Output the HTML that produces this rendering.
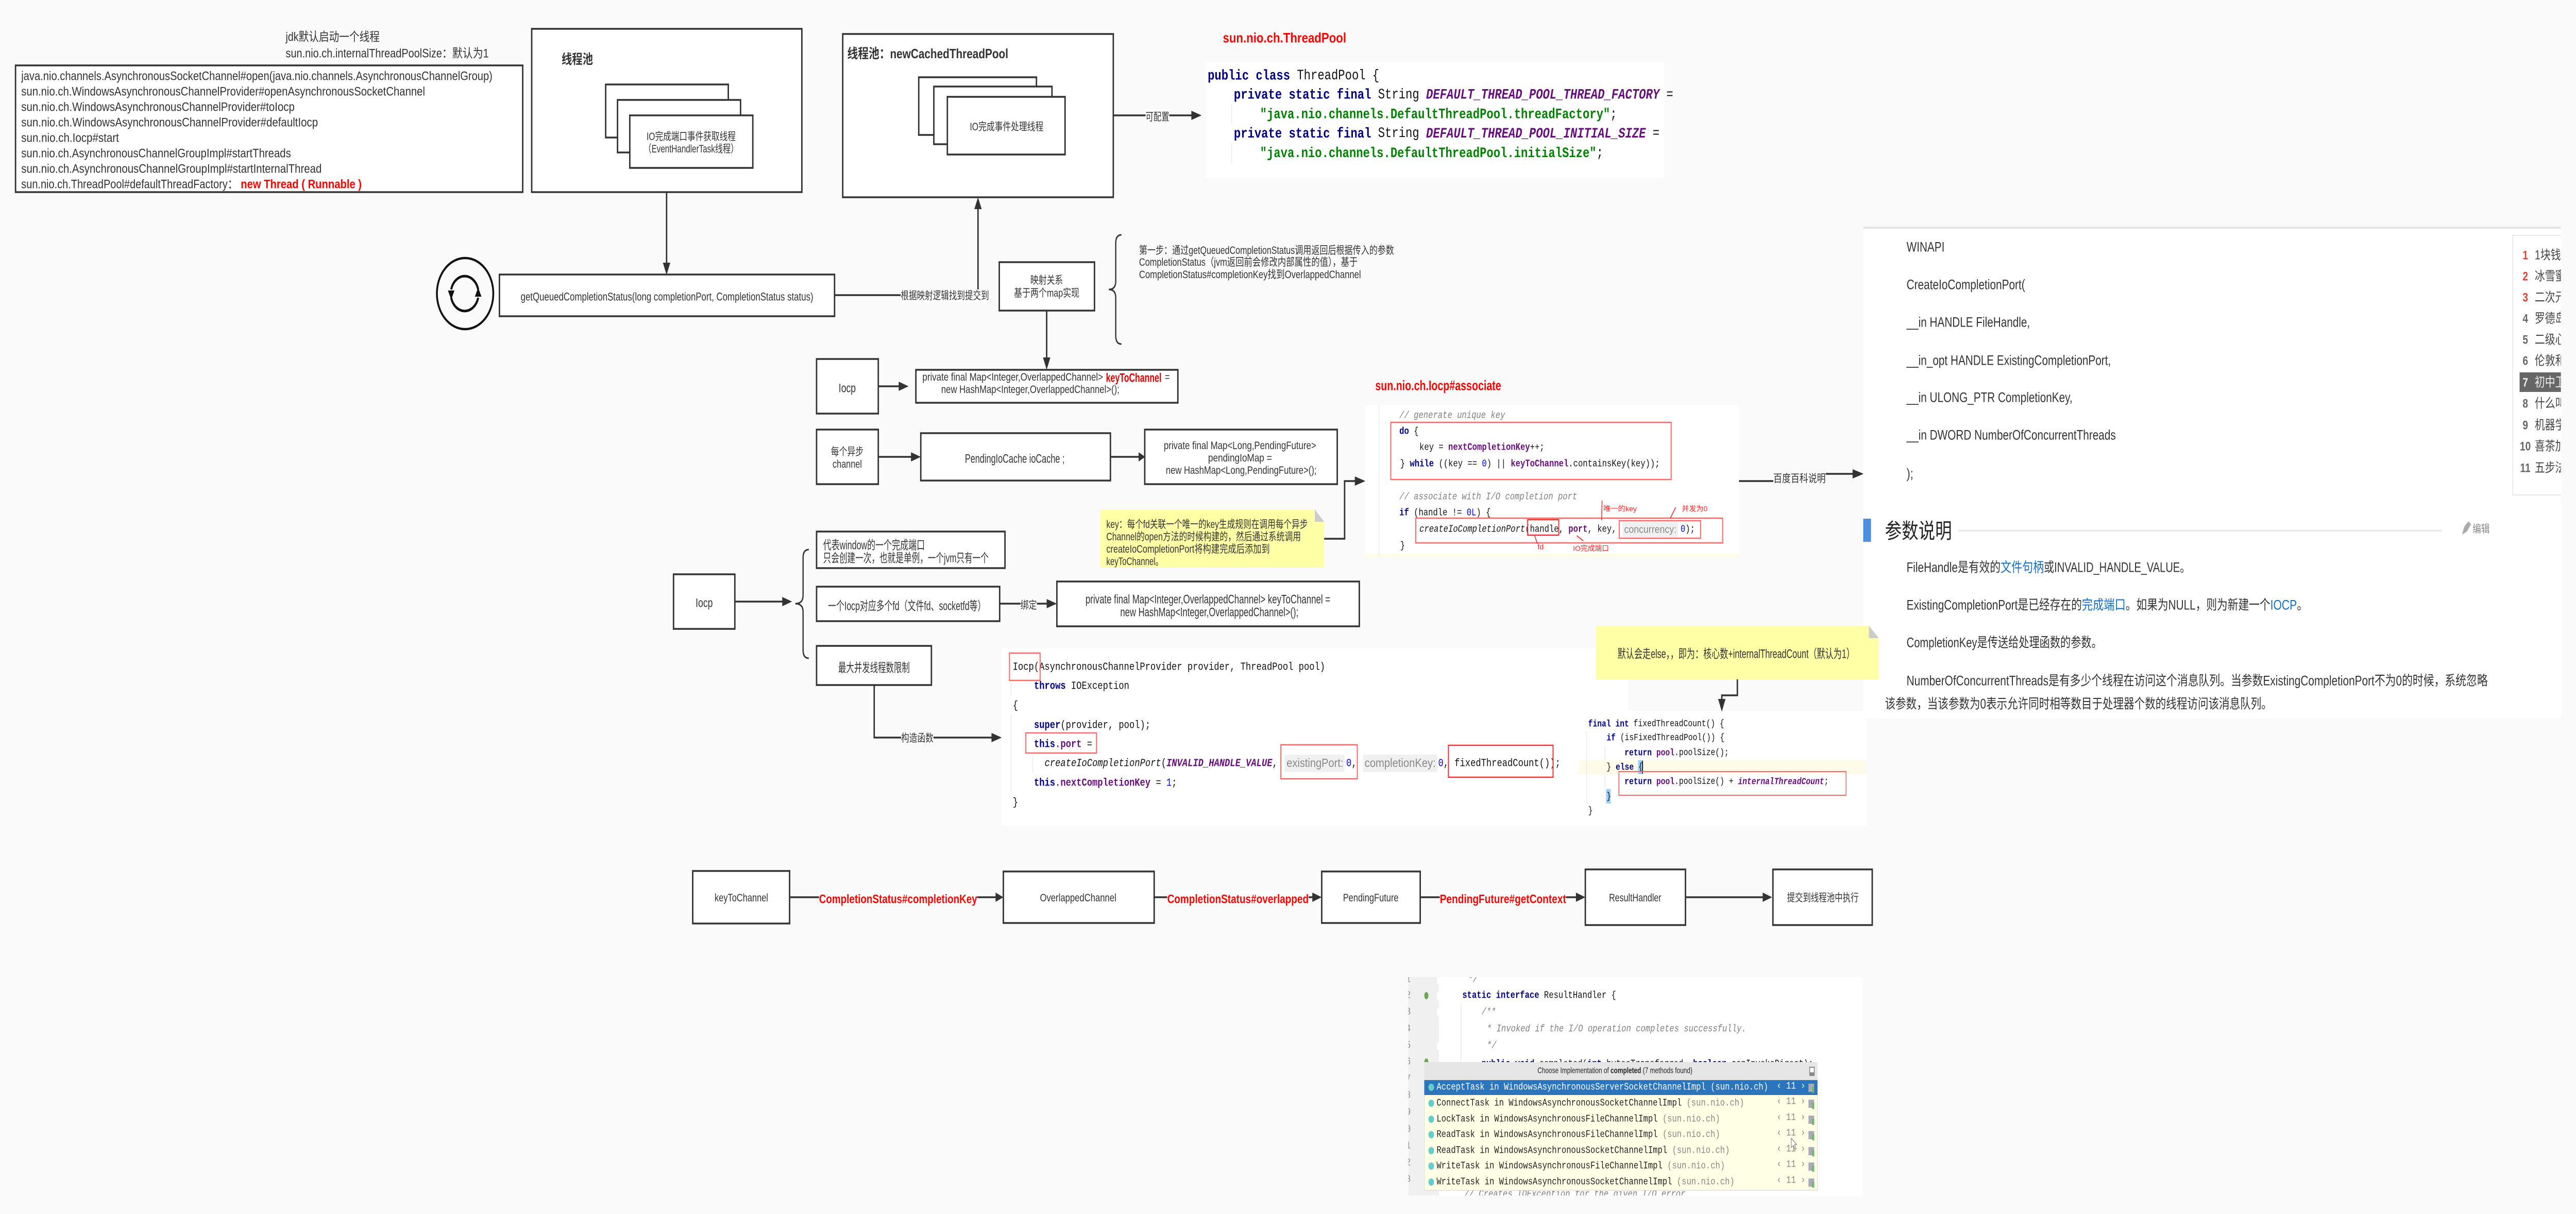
<!DOCTYPE html>
<html><head><meta charset="utf-8"><title>Diagram</title>
<style>
html,body{margin:0;padding:0;background:#fafafa;width:100vw;height:100vh;overflow:hidden}
svg{display:block;position:fixed;left:0;top:0;width:100vw;height:100vh}
text{font-family:"Liberation Sans","Noto Sans CJK SC",sans-serif;fill:#333;dominant-baseline:central}
.b{fill:#fff;stroke:#333;stroke-width:3.5}
.l{fill:none;stroke:#333;stroke-width:3.5}
.a{fill:#333;stroke:none}
.c{text-anchor:middle}
.f{font-size:21px}
.t{font-size:24px}
.m{font-family:"Liberation Mono",monospace;fill:#111}
.m1{font-size:28px}.m2{font-size:19.6px}.m3{font-size:21.6px}.m4{font-size:18.5px}
.k{fill:#000080;font-weight:bold}
.v{fill:#660e7a;font-weight:bold}
.vi{fill:#660e7a;font-weight:bold;font-style:italic}
.s{fill:#008000;font-weight:bold}
.n{fill:#0000ff}
.cm{fill:#808080;font-style:italic}
.i{font-style:italic}
.hint{font-family:"Liberation Sans",sans-serif;fill:#888;font-size:20px}
.red{fill:#f00;font-weight:bold}
.rr{fill:none;stroke:#f66;stroke-width:2.5}
.g{stroke:#ececec;stroke-width:2;fill:none}
.w{font-size:27px;fill:#333}
.lnk{fill:#136ec2}
.rn{font-size:14px;fill:#f22}
.side{font-size:25px;fill:#444}
.num{font-size:24px;font-weight:bold;text-anchor:middle;fill:#666}
.numr{font-size:24px;font-weight:bold;text-anchor:middle;fill:#e04030}
.pop{font-family:"Liberation Mono",monospace;font-size:19.6px;fill:#222}
.gy{fill:#888}
</style></head><body>
<svg xmlns="http://www.w3.org/2000/svg" viewBox="0 0 6303 2357" preserveAspectRatio="none">
<defs>
<clipPath id="cs"><rect x="6140" y="440" width="126" height="540"/></clipPath>
<clipPath id="cp"><rect x="3446" y="1897" width="1111" height="424"/></clipPath>
</defs>
<rect width="6303" height="2357" fill="#fafafa"/>

<!-- top-left notes -->
<text x="699" y="71" class="t" textLength="230" lengthAdjust="spacingAndGlyphs">jdk默认启动一个线程</text>
<text x="699" y="103" class="t" textLength="497" lengthAdjust="spacingAndGlyphs">sun.nio.ch.internalThreadPoolSize：默认为1</text>

<rect x="38" y="127" width="1241" height="246" class="b"/>
<g class="t">
<text x="52" y="147" class="t" textLength="1153" lengthAdjust="spacingAndGlyphs">java.nio.channels.AsynchronousSocketChannel#open(java.nio.channels.AsynchronousChannelGroup)</text>
<text x="52" y="177" class="t" textLength="988" lengthAdjust="spacingAndGlyphs">sun.nio.ch.WindowsAsynchronousChannelProvider#openAsynchronousSocketChannel</text>
<text x="52" y="207" class="t" textLength="669" lengthAdjust="spacingAndGlyphs">sun.nio.ch.WindowsAsynchronousChannelProvider#toIocp</text>
<text x="52" y="237" class="t" textLength="726" lengthAdjust="spacingAndGlyphs">sun.nio.ch.WindowsAsynchronousChannelProvider#defaultIocp</text>
<text x="52" y="267" class="t" textLength="239" lengthAdjust="spacingAndGlyphs">sun.nio.ch.Iocp#start</text>
<text x="52" y="297" class="t" textLength="660" lengthAdjust="spacingAndGlyphs">sun.nio.ch.AsynchronousChannelGroupImpl#startThreads</text>
<text x="52" y="327" class="t" textLength="735" lengthAdjust="spacingAndGlyphs">sun.nio.ch.AsynchronousChannelGroupImpl#startInternalThread</text>
<text x="52" y="357" class="t" textLength="530" lengthAdjust="spacingAndGlyphs">sun.nio.ch.ThreadPool#defaultThreadFactory：</text>
<text x="589" y="357" class="t red" textLength="296" lengthAdjust="spacingAndGlyphs">new Thread ( Runnable )</text>
</g>

<!-- thread pool 1 -->
<rect x="1301" y="56" width="661" height="317" class="b"/>
<text x="1374" y="115" font-size="26" font-weight="bold" textLength="77" lengthAdjust="spacingAndGlyphs">线程池</text>
<rect x="1482" y="164" width="300" height="103" class="b"/>
<rect x="1511" y="194" width="301" height="102" class="b"/>
<rect x="1541" y="224" width="301" height="102" class="b"/>
<text x="1691" y="266" class="f c" textLength="218" lengthAdjust="spacingAndGlyphs">IO完成端口事件获取线程</text>
<text x="1691" y="290" class="f c" textLength="232" lengthAdjust="spacingAndGlyphs">（EventHandlerTask线程）</text>
<path d="M1631,373V512" class="l"/><polygon points="1622,510 1640,510 1631,534" class="a"/>

<!-- loop -->
<circle cx="1138" cy="570" r="69" fill="none" stroke="#111" stroke-width="4.5"/>
<path d="M1170,562 A34,34 0 0 0 1104,562" fill="none" stroke="#111" stroke-width="5"/>
<path d="M1104,578 A34,34 0 0 0 1170,578" fill="none" stroke="#111" stroke-width="5"/>
<polygon points="1096,564 1112,564 1104,582" fill="#111"/>
<polygon points="1162,576 1178,576 1170,558" fill="#111"/>

<rect x="1222" y="533" width="820" height="81" class="b"/>
<text x="1274" y="577" font-size="22" textLength="716" lengthAdjust="spacingAndGlyphs">getQueuedCompletionStatus(long completionPort, CompletionStatus status)</text>
<path d="M2042,573H2204" class="l"/>
<path d="M2393,562V404" class="l"/><polygon points="2384,406 2402,406 2393,383" class="a"/>
<rect x="2204" y="562" width="216" height="25" fill="#fff"/>
<text x="2204" y="575" class="f" textLength="216" lengthAdjust="spacingAndGlyphs">根据映射逻辑找到提交到</text>

<!-- newCachedThreadPool -->
<rect x="2062" y="66" width="662" height="317" class="b"/>
<text x="2073" y="104" font-size="26" font-weight="bold" textLength="394" lengthAdjust="spacingAndGlyphs">线程池：newCachedThreadPool</text>
<rect x="2248" y="150" width="288" height="112" class="b"/>
<rect x="2285" y="168" width="289" height="112" class="b"/>
<rect x="2318" y="188" width="288" height="112" class="b"/>
<text x="2463" y="247" class="f c" textLength="180" lengthAdjust="spacingAndGlyphs">IO完成事件处理线程</text>
<path d="M2724,224H2918" class="l"/><polygon points="2915,215 2915,233 2940,224" class="a"/>
<rect x="2803" y="212" width="58" height="25" fill="#fff"/>
<text x="2803" y="228" class="f" textLength="58" lengthAdjust="spacingAndGlyphs">可配置</text>

<!-- ThreadPool code -->
<text x="2992" y="74" font-size="27" class="red" textLength="302" lengthAdjust="spacingAndGlyphs">sun.nio.ch.ThreadPool</text>
<rect x="2951" y="120" width="1121" height="226" fill="#fff"/>
<path d="M3014,201V241M3014,277V317" class="g"/>
<text x="2955" y="147" class="m m1"><tspan class="k">public class</tspan> ThreadPool {</text>
<text x="3019" y="184" class="m m1"><tspan class="k">private static final</tspan> String <tspan class="vi">DEFAULT_THREAD_POOL_THREAD_FACTORY</tspan> =</text>
<text x="3083" y="222" class="m m1"><tspan class="s">"java.nio.channels.DefaultThreadPool.threadFactory"</tspan>;</text>
<text x="3019" y="259" class="m m1"><tspan class="k">private static final</tspan> String <tspan class="vi">DEFAULT_THREAD_POOL_INITIAL_SIZE</tspan> =</text>
<text x="3083" y="297" class="m m1"><tspan class="s">"java.nio.channels.DefaultThreadPool.initialSize"</tspan>;</text>

<!-- brace + step text -->
<path d="M2744,456Q2730,456 2730,472V546Q2730,562 2713,562Q2730,562 2730,578V652Q2730,668 2744,668" fill="none" stroke="#333" stroke-width="3"/>
<text x="2787" y="487" class="f" textLength="624" lengthAdjust="spacingAndGlyphs">第一步：通过getQueuedCompletionStatus调用返回后根据传入的参数</text>
<text x="2787" y="510" class="f" textLength="535" lengthAdjust="spacingAndGlyphs">CompletionStatus（jvm返回前会修改内部属性的值），基于</text>
<text x="2787" y="534" class="f" textLength="543" lengthAdjust="spacingAndGlyphs">CompletionStatus#completionKey找到OverlappedChannel</text>

<!-- mapping -->
<rect x="2445" y="509" width="233" height="94" class="b"/>
<text x="2561" y="545" class="f c" textLength="80" lengthAdjust="spacingAndGlyphs">映射关系</text>
<text x="2561" y="570" class="f c" textLength="160" lengthAdjust="spacingAndGlyphs">基于两个map实现</text>
<path d="M2561,603V696" class="l"/><polygon points="2552,694 2570,694 2561,718" class="a"/>

<!-- Iocp row -->
<rect x="1998" y="697" width="151" height="106" class="b"/>
<text x="2073" y="753" class="t c" textLength="42" lengthAdjust="spacingAndGlyphs">Iocp</text>
<path d="M2149,750H2201" class="l"/><polygon points="2199,741 2199,759 2223,750" class="a"/>
<rect x="2241" y="718" width="641" height="64" class="b"/>
<text x="2257" y="733" class="f" textLength="442" lengthAdjust="spacingAndGlyphs">private final Map&lt;Integer,OverlappedChannel&gt;</text>
<text x="2706" y="733" class="t" font-weight="bold" style="fill:#d00" textLength="136" lengthAdjust="spacingAndGlyphs">keyToChannel</text>
<text x="2850" y="733" class="f">=</text>
<text x="2303" y="757" class="f" textLength="436" lengthAdjust="spacingAndGlyphs">new HashMap&lt;Integer,OverlappedChannel&gt;();</text>

<!-- channel row -->
<rect x="1998" y="834" width="151" height="106" class="b"/>
<text x="2073" y="878" class="f c" textLength="80" lengthAdjust="spacingAndGlyphs">每个异步</text>
<text x="2073" y="902" class="f c" textLength="72" lengthAdjust="spacingAndGlyphs">channel</text>
<path d="M2149,887H2231" class="l"/><polygon points="2229,878 2229,896 2253,887" class="a"/>
<rect x="2253" y="841" width="464" height="92" class="b"/>
<text x="2361" y="890" class="t" textLength="244" lengthAdjust="spacingAndGlyphs">PendingIoCache ioCache ;</text>
<path d="M2717,887H2788" class="l"/><polygon points="2786,878 2786,896 2802,887" class="a"/>
<rect x="2801" y="834" width="471" height="106" class="b"/>
<text x="3034" y="866" class="f c" textLength="373" lengthAdjust="spacingAndGlyphs">private final Map&lt;Long,PendingFuture&gt;</text>
<text x="3034" y="890" class="f c" textLength="156" lengthAdjust="spacingAndGlyphs">pendingIoMap =</text>
<text x="3037" y="914" class="f c" textLength="369" lengthAdjust="spacingAndGlyphs">new HashMap&lt;Long,PendingFuture&gt;();</text>

<!-- note 1 -->
<polygon points="2692,989 3217,989 3240,1013 3240,1102 2692,1102" fill="#ffffa6"/>
<polygon points="3217,989 3217,1013 3240,1013" fill="#ccc"/>
<text x="2707" y="1019" class="f" textLength="493" lengthAdjust="spacingAndGlyphs">key：每个fd关联一个唯一的key生成规则在调用每个异步</text>
<text x="2707" y="1043" class="f" textLength="476" lengthAdjust="spacingAndGlyphs">Channel的open方法的时候构建的，然后通过系统调用</text>
<text x="2707" y="1067" class="f" textLength="400" lengthAdjust="spacingAndGlyphs">createIoCompletionPort将构建完成后添加到</text>
<text x="2707" y="1091" class="f" textLength="139" lengthAdjust="spacingAndGlyphs">keyToChannel。</text>
<path d="M3240,1046H3290V934H3318" class="l"/><polygon points="3315,925 3315,943 3341,934" class="a"/>

<!-- associate -->
<text x="3365" y="749" font-size="27" class="red" textLength="308" lengthAdjust="spacingAndGlyphs">sun.nio.ch.Iocp#associate</text>
<rect x="3340" y="787" width="915" height="295" fill="#fff"/>
<rect x="3340" y="1075" width="915" height="7" fill="#fffbe8"/>
<path d="M3374,787V1082" class="g"/>
<text x="3424" y="807" class="m m2 cm">// generate unique key</text>
<text x="3424" y="838" class="m m2"><tspan class="k">do</tspan> {</text>
<text x="3473" y="869" class="m m2">key = <tspan class="v">nextCompletionKey</tspan>++;</text>
<text x="3426" y="901" class="m m2">} <tspan class="k">while</tspan> ((key == <tspan class="n">0</tspan>) || <tspan class="v">keyToChannel</tspan>.containsKey(key));</text>
<text x="3424" y="965" class="m m2 cm">// associate with I/O completion port</text>
<text x="3424" y="996" class="m m2"><tspan class="k">if</tspan> (handle != <tspan class="n">0L</tspan>) {</text>
<rect x="3970" y="1013" width="136" height="30" rx="4" fill="#f0f0f0"/>
<text x="3473" y="1028" class="m m2"><tspan class="i">createIoCompletionPort</tspan>(handle, <tspan class="v">port</tspan>, key,</text>
<text x="3974" y="1028" class="hint" textLength="128" lengthAdjust="spacingAndGlyphs">concurrency:</text>
<text x="4112" y="1028" class="m m2"><tspan class="n">0</tspan>);</text>
<text x="3426" y="1060" class="m m2">}</text>
<rect x="3403" y="820" width="686" height="111" class="rr"/>
<rect x="3464" y="1006" width="751" height="48" class="rr"/>
<rect x="3738" y="1009" width="76" height="30" fill="none" stroke="#e33" stroke-width="2.5"/>
<rect x="3962" y="1011" width="199" height="34" class="rr"/>
<text x="3923" y="988" class="rn" textLength="82" lengthAdjust="spacingAndGlyphs">唯一的key</text>
<text x="4115" y="988" class="rn" textLength="63" lengthAdjust="spacingAndGlyphs">并发为0</text>
<text x="3762" y="1062" class="rn" textLength="15" lengthAdjust="spacingAndGlyphs">fd</text>
<text x="3849" y="1065" class="rn" textLength="88" lengthAdjust="spacingAndGlyphs">IO完成端口</text>
<path d="M3920,972L3919,1010M4100,985L4087,1006M3762,1056L3755,1040M3874,1050L3858,1040" stroke="#e33" stroke-width="2" fill="none"/>

<!-- baike arrow -->
<path d="M4255,934H4340M4467,920H4535" class="l"/>
<polygon points="4533,911 4533,929 4560,920" class="a"/>
<rect x="4339" y="918" width="128" height="25" fill="#fafafa"/>
<text x="4339" y="930" class="f" textLength="128" lengthAdjust="spacingAndGlyphs">百度百科说明</text>

<!-- right web panel -->
<rect x="4559" y="443" width="1707" height="952" fill="#fff"/>
<rect x="4559" y="440" width="1707" height="4" fill="#e4e4e4"/>
<text x="4665" y="480" class="w" textLength="93" lengthAdjust="spacingAndGlyphs">WINAPI</text>
<text x="4665" y="553" class="w" textLength="290" lengthAdjust="spacingAndGlyphs">CreateIoCompletionPort(</text>
<text x="4665" y="626" class="w" textLength="302" lengthAdjust="spacingAndGlyphs">__in HANDLE FileHandle,</text>
<text x="4665" y="700" class="w" textLength="500" lengthAdjust="spacingAndGlyphs">__in_opt HANDLE ExistingCompletionPort,</text>
<text x="4665" y="772" class="w" textLength="406" lengthAdjust="spacingAndGlyphs">__in ULONG_PTR CompletionKey,</text>
<text x="4665" y="845" class="w" textLength="512" lengthAdjust="spacingAndGlyphs">__in DWORD NumberOfConcurrentThreads</text>
<text x="4665" y="920" class="w">);</text>

<rect x="4559" y="1007" width="19" height="45" fill="#4a90e2"/>
<text x="4612" y="1031" font-size="41" style="fill:#222" textLength="164" lengthAdjust="spacingAndGlyphs">参数说明</text>
<rect x="4792" y="1029" width="1183" height="3" fill="#e8e8e8"/>
<polygon points="6024,1038 6030,1022 6040,1012 6046,1018 6036,1032" fill="#aaa"/>
<text x="6050" y="1028" font-size="21" style="fill:#888">编辑</text>

<text x="4665" y="1102" class="w" textLength="230" lengthAdjust="spacingAndGlyphs">FileHandle是有效的</text>
<text x="4895" y="1102" class="w lnk" style="fill:#136ec2" textLength="106" lengthAdjust="spacingAndGlyphs">文件句柄</text>
<text x="5001" y="1102" class="w" textLength="358" lengthAdjust="spacingAndGlyphs">或INVALID_HANDLE_VALUE。</text>
<text x="4665" y="1175" class="w" textLength="429" lengthAdjust="spacingAndGlyphs">ExistingCompletionPort是已经存在的</text>
<text x="5094" y="1175" class="w lnk" style="fill:#136ec2" textLength="107" lengthAdjust="spacingAndGlyphs">完成端口</text>
<text x="5201" y="1175" class="w" textLength="354" lengthAdjust="spacingAndGlyphs">。如果为NULL，则为新建一个</text>
<text x="5555" y="1175" class="w lnk" style="fill:#136ec2" textLength="65" lengthAdjust="spacingAndGlyphs">IOCP</text>
<text x="5620" y="1175" class="w">。</text>
<text x="4665" y="1248" class="w" textLength="478" lengthAdjust="spacingAndGlyphs">CompletionKey是传送给处理函数的参数。</text>
<text x="4665" y="1322" class="w" textLength="1422" lengthAdjust="spacingAndGlyphs">NumberOfConcurrentThreads是有多少个线程在访问这个消息队列。当参数ExistingCompletionPort不为0的时候，系统忽略</text>
<text x="4612" y="1367" class="w" textLength="947" lengthAdjust="spacingAndGlyphs">该参数，当该参数为0表示允许同时相等数目于处理器个数的线程访问该消息队列。</text>

<!-- sidebar -->
<path d="M6266,457H6148V961H6266" fill="none" stroke="#e8e8e8" stroke-width="2"/>
<g clip-path="url(#cs)">
<rect x="6165" y="723" width="110" height="38" fill="#666"/>
<text x="6179" y="495" class="numr">1</text><text x="6202" y="495" class="side">1块钱</text>
<text x="6179" y="536" class="numr">2</text><text x="6202" y="536" class="side">冰雪蜜</text>
<text x="6179" y="577" class="numr">3</text><text x="6202" y="577" class="side">二次元</text>
<text x="6179" y="618" class="num">4</text><text x="6202" y="618" class="side">罗德岛</text>
<text x="6179" y="659" class="num">5</text><text x="6202" y="659" class="side">二级心</text>
<text x="6179" y="700" class="num">6</text><text x="6202" y="700" class="side">伦敦和</text>
<text x="6179" y="742" class="num" style="fill:#eee">7</text><text x="6202" y="742" class="side" style="fill:#eee">初中卫</text>
<text x="6179" y="783" class="num">8</text><text x="6202" y="783" class="side">什么叫</text>
<text x="6179" y="825" class="num">9</text><text x="6202" y="825" class="side">机器学</text>
<text x="6179" y="866" class="num">10</text><text x="6202" y="866" class="side">喜茶加</text>
<text x="6179" y="908" class="num">11</text><text x="6202" y="908" class="side">五步法</text>
</g>

<!-- Iocp tree -->
<rect x="1648" y="1115" width="150" height="106" class="b"/>
<text x="1723" y="1170" class="t c" textLength="42" lengthAdjust="spacingAndGlyphs">Iocp</text>
<path d="M1798,1168H1916" class="l"/><polygon points="1914,1159 1914,1177 1938,1168" class="a"/>
<path d="M1979,1067Q1965,1067 1965,1083V1156Q1965,1172 1946,1172Q1965,1172 1965,1188V1262Q1965,1278 1979,1278" fill="none" stroke="#333" stroke-width="3"/>
<rect x="1998" y="1032" width="461" height="71" class="b"/>
<text x="2014" y="1058" class="t" textLength="249" lengthAdjust="spacingAndGlyphs">代表window的一个完成端口</text>
<text x="2014" y="1083" class="t" textLength="405" lengthAdjust="spacingAndGlyphs">只会创建一次，也就是单例，一个jvm只有一个</text>
<rect x="1998" y="1139" width="448" height="67" class="b"/>
<text x="2026" y="1176" class="t" textLength="386" lengthAdjust="spacingAndGlyphs">一个Iocp对应多个fd（文件fd、socketfd等）</text>
<path d="M2446,1172H2563" class="l"/><polygon points="2561,1163 2561,1181 2586,1172" class="a"/>
<rect x="2497" y="1160" width="40" height="24" fill="#fff"/>
<text x="2497" y="1176" class="f" textLength="40" lengthAdjust="spacingAndGlyphs">绑定</text>
<rect x="2586" y="1129" width="740" height="87" class="b"/>
<text x="2656" y="1163" class="t" textLength="599" lengthAdjust="spacingAndGlyphs">private final Map&lt;Integer,OverlappedChannel&gt; keyToChannel =</text>
<text x="2741" y="1188" class="t" textLength="436" lengthAdjust="spacingAndGlyphs">new HashMap&lt;Integer,OverlappedChannel&gt;();</text>
<rect x="1998" y="1254" width="281" height="76" class="b"/>
<text x="2051" y="1296" class="t" textLength="175" lengthAdjust="spacingAndGlyphs">最大并发线程数限制</text>
<path d="M2139,1330V1432H2428" class="l"/><polygon points="2426,1423 2426,1441 2451,1432" class="a"/>
<rect x="2205" y="1420" width="79" height="24" fill="#fff"/>
<text x="2205" y="1434" class="f" textLength="79" lengthAdjust="spacingAndGlyphs">构造函数</text>

<!-- constructor code -->
<rect x="2451" y="1259" width="1532" height="344" fill="#fff"/>
<rect x="3850" y="1380" width="715" height="224" fill="#fff"/>
<path d="M2474,1323V1350M2474,1388V1538M2527,1468V1500" class="g"/>
<text x="2478" y="1295" class="m m3">Iocp(AsynchronousChannelProvider provider, ThreadPool pool)</text>
<text x="2530" y="1332" class="m m3"><tspan class="k">throws</tspan> IOException</text>
<text x="2478" y="1370" class="m m3">{</text>
<text x="2530" y="1408" class="m m3"><tspan class="k">super</tspan>(provider, pool);</text>
<text x="2530" y="1445" class="m m3"><tspan class="k">this</tspan>.<tspan class="v">port</tspan> =</text>
<rect x="3143" y="1465" width="147" height="34" rx="4" fill="#f0f0f0"/>
<rect x="3335" y="1465" width="182" height="34" rx="4" fill="#f0f0f0"/>
<text x="2556" y="1482" class="m m3"><tspan class="i">createIoCompletionPort</tspan>(<tspan class="vi">INVALID_HANDLE_VALUE</tspan>,</text>
<text x="3148" y="1482" class="hint" style="font-size:23px" textLength="139" lengthAdjust="spacingAndGlyphs">existingPort:</text>
<text x="3294" y="1482" class="m m3"><tspan class="n">0</tspan>,</text>
<text x="3339" y="1482" class="hint" style="font-size:23px" textLength="174" lengthAdjust="spacingAndGlyphs">completionKey:</text>
<text x="3519" y="1482" class="m m3"><tspan class="n">0</tspan>,</text>
<text x="3559" y="1482" class="m m3">fixedThreadCount());</text>
<text x="2530" y="1520" class="m m3"><tspan class="k">this</tspan>.<tspan class="v">nextCompletionKey</tspan> = <tspan class="n">1</tspan>;</text>
<text x="2478" y="1558" class="m m3">}</text>
<rect x="2470" y="1268" width="75" height="53" class="rr"/>
<rect x="2510" y="1423" width="173" height="39" class="rr"/>
<rect x="3134" y="1446" width="187" height="66" class="rr"/>
<rect x="3544" y="1447" width="256" height="62" fill="none" stroke="#e33" stroke-width="2.5"/>

<!-- fixedThreadCount -->
<polygon points="3905,1215 4573,1215 4597,1239 4597,1319 3905,1319" fill="#ffffa6"/>
<polygon points="4573,1215 4573,1239 4597,1239" fill="#ccc"/>
<text x="3958" y="1269" class="t" textLength="580" lengthAdjust="spacingAndGlyphs">默认会走else，，即为：核心数+internalThreadCount（默认为1）</text>
<path d="M4251,1319V1350H4213V1360" class="l"/><polygon points="4204,1357 4222,1357 4213,1382" class="a"/>
<rect x="3863" y="1476" width="702" height="27" fill="#fffbe8"/>
<path d="M3882,1420V1560M3927,1448V1475M3927,1505V1530" class="g"/>
<rect x="4008" y="1476" width="11" height="27" fill="#9ad0ff"/>
<rect x="3930" y="1532" width="11" height="28" fill="#9ad0ff"/>
<text x="3886" y="1406" class="m m4"><tspan class="k">final int</tspan> fixedThreadCount() {</text>
<text x="3931" y="1433" class="m m4"><tspan class="k">if</tspan> (isFixedThreadPool()) {</text>
<text x="3975" y="1462" class="m m4"><tspan class="k">return</tspan> <tspan class="v">pool</tspan>.poolSize();</text>
<text x="3931" y="1490" class="m m4">} <tspan class="k">else</tspan> {</text>
<rect x="4018" y="1477" width="2" height="25" fill="#000"/>
<text x="3975" y="1518" class="m m4"><tspan class="k">return</tspan> <tspan class="v">pool</tspan>.poolSize() + <tspan class="vi">internalThreadCount</tspan>;</text>
<text x="3931" y="1547" class="m m4">}</text>
<text x="3886" y="1575" class="m m4">}</text>
<rect x="3961" y="1498" width="556" height="46" class="rr" style="stroke-width:2"/>

<!-- chain -->
<rect x="1695" y="1691" width="237" height="102" class="b"/>
<text x="1814" y="1744" class="f c" textLength="131" lengthAdjust="spacingAndGlyphs">keyToChannel</text>
<path d="M1932,1742H2438" class="l"/><polygon points="2436,1733 2436,1751 2455,1742" class="a"/>
<rect x="2004" y="1729" width="387" height="28" fill="#fff"/>
<text x="2004" y="1745" class="t red" textLength="387" lengthAdjust="spacingAndGlyphs">CompletionStatus#completionKey</text>
<rect x="2455" y="1692" width="369" height="100" class="b"/>
<text x="2638" y="1744" class="f c" textLength="187" lengthAdjust="spacingAndGlyphs">OverlappedChannel</text>
<path d="M2824,1742H3213" class="l"/><polygon points="3211,1733 3211,1751 3234,1742" class="a"/>
<rect x="2856" y="1729" width="346" height="28" fill="#fff"/>
<text x="2856" y="1745" class="t red" textLength="346" lengthAdjust="spacingAndGlyphs">CompletionStatus#overlapped</text>
<rect x="3234" y="1692" width="241" height="100" class="b"/>
<text x="3354" y="1744" class="f c" textLength="136" lengthAdjust="spacingAndGlyphs">PendingFuture</text>
<path d="M3475,1742H3858" class="l"/><polygon points="3856,1733 3856,1751 3879,1742" class="a"/>
<rect x="3523" y="1729" width="309" height="28" fill="#fff"/>
<text x="3523" y="1745" class="t red" textLength="309" lengthAdjust="spacingAndGlyphs">PendingFuture#getContext</text>
<rect x="3879" y="1688" width="245" height="108" class="b"/>
<text x="4001" y="1744" class="f c" textLength="128" lengthAdjust="spacingAndGlyphs">ResultHandler</text>
<path d="M4124,1742H4315" class="l"/><polygon points="4313,1733 4313,1751 4336,1742" class="a"/>
<rect x="4338" y="1688" width="243" height="108" class="b"/>
<text x="4460" y="1744" class="f c" textLength="175" lengthAdjust="spacingAndGlyphs">提交到线程池中执行</text>

<!-- IDE screenshot -->
<rect x="3446" y="1897" width="1111" height="424" fill="#fff"/>
<g clip-path="url(#cp)">
<rect x="3446" y="1897" width="75" height="424" fill="#f0f0f0"/>
<path d="M3575,1948V2062" class="g"/>
<text x="3440" y="1902" class="pop gy">1</text><text x="3440" y="1933" class="pop gy">2</text><text x="3440" y="1965" class="pop gy">3</text><text x="3440" y="1998" class="pop gy">4</text><text x="3440" y="2030" class="pop gy">5</text><text x="3440" y="2062" class="pop gy">6</text><text x="3440" y="2095" class="pop gy">7</text><text x="3440" y="2127" class="pop gy">8</text><text x="3440" y="2160" class="pop gy">9</text><text x="3440" y="2193" class="pop gy">0</text><text x="3440" y="2225" class="pop gy">1</text><text x="3440" y="2258" class="pop gy">2</text><text x="3440" y="2290" class="pop gy">3</text>
<ellipse cx="3490" cy="1933" rx="5" ry="7" fill="#6aa84f"/>
<ellipse cx="3490" cy="2062" rx="5" ry="7" fill="#6aa84f"/>
<rect x="3516" y="1898" width="10" height="12" fill="#fff"/><rect x="3516" y="1926" width="10" height="16" fill="#fff"/><rect x="3516" y="1958" width="10" height="14" fill="#fff"/><rect x="3516" y="2024" width="10" height="14" fill="#fff"/>
<text x="3592" y="1902" class="m m2 cm">*/</text>
<text x="3578" y="1933" class="m m2"><tspan class="k">static interface</tspan> ResultHandler {</text>
<text x="3625" y="1965" class="m m2 cm">/**</text>
<text x="3638" y="1998" class="m m2 cm">* Invoked if the I/O operation completes successfully.</text>
<text x="3638" y="2030" class="m m2 cm">*/</text>
<text x="3625" y="2066" class="m m2"><tspan class="k">public void</tspan> completed(<tspan class="k">int</tspan> bytesTransferred, <tspan class="k">boolean</tspan> canInvokeDirect);</text>
<text x="3583" y="2319" class="m m2 cm">// Creates IOException for the given I/O error</text>
</g>
<rect x="3485" y="2062" width="962" height="34" fill="#e6e6e6"/>
<rect x="3485" y="2096" width="962" height="215" fill="#ffffe6"/>
<rect x="3485" y="2096" width="962" height="215" fill="none" stroke="#ddd" stroke-width="1.5"/>
<rect x="3485" y="2097" width="962" height="29" fill="#2a75bb"/>
<text x="3762" y="2079" style="font-size:16px;fill:#222" textLength="379" lengthAdjust="spacingAndGlyphs">Choose Implementation of <tspan font-weight="bold">completed</tspan> (7 methods found)</text>
<rect x="4427" y="2071" width="13" height="18" fill="#888"/><rect x="4429" y="2073" width="9" height="9" fill="#fff"/>
<circle cx="3502" cy="2111" r="7" fill="#6cc"/><circle cx="3502" cy="2142" r="7" fill="#6cc"/><circle cx="3502" cy="2173" r="7" fill="#6cc"/><circle cx="3502" cy="2203" r="7" fill="#6cc"/><circle cx="3502" cy="2234" r="7" fill="#6cc"/><circle cx="3502" cy="2264" r="7" fill="#6cc"/><circle cx="3502" cy="2295" r="7" fill="#6cc"/>
<text x="3515" y="2111" class="pop" style="fill:#fff">AcceptTask in WindowsAsynchronousServerSocketChannelImpl (sun.nio.ch)</text>
<text x="3515" y="2142" class="pop">ConnectTask in WindowsAsynchronousSocketChannelImpl <tspan class="gy">(sun.nio.ch)</tspan></text>
<text x="3515" y="2173" class="pop">LockTask in WindowsAsynchronousFileChannelImpl <tspan class="gy">(sun.nio.ch)</tspan></text>
<text x="3515" y="2203" class="pop">ReadTask in WindowsAsynchronousFileChannelImpl <tspan class="gy">(sun.nio.ch)</tspan></text>
<text x="3515" y="2234" class="pop">ReadTask in WindowsAsynchronousSocketChannelImpl <tspan class="gy">(sun.nio.ch)</tspan></text>
<text x="3515" y="2264" class="pop">WriteTask in WindowsAsynchronousFileChannelImpl <tspan class="gy">(sun.nio.ch)</tspan></text>
<text x="3515" y="2295" class="pop">WriteTask in WindowsAsynchronousSocketChannelImpl <tspan class="gy">(sun.nio.ch)</tspan></text>
<text x="4347" y="2109" class="pop" style="fill:#fff">‹ 11 ›</text>
<text x="4347" y="2139" class="pop gy">‹ 11 ›</text>
<text x="4347" y="2170" class="pop gy">‹ 11 ›</text>
<text x="4347" y="2200" class="pop gy">‹ 11 ›</text>
<text x="4347" y="2231" class="pop gy">‹ 11 ›</text>
<text x="4347" y="2261" class="pop gy">‹ 11 ›</text>
<text x="4347" y="2292" class="pop gy">‹ 11 ›</text>
<path d="M4425,2104h14v16h-14zM4425,2135h14v16h-14zM4425,2166h14v16h-14zM4425,2196h14v16h-14zM4425,2227h14v16h-14zM4425,2257h14v16h-14zM4425,2288h14v16h-14z" fill="#aab"/>
<path d="M4434,2110h5v12h-5zM4434,2141h5v12h-5zM4434,2172h5v12h-5zM4434,2202h5v12h-5zM4434,2233h5v12h-5zM4434,2263h5v12h-5zM4434,2294h5v12h-5z" fill="#6b6"/>
<polygon points="4383,2210 4383,2228 4388,2224 4392,2232 4395,2230 4391,2223 4396,2222" fill="#fff" stroke="#555" stroke-width="1"/>
</svg>
</body></html>
